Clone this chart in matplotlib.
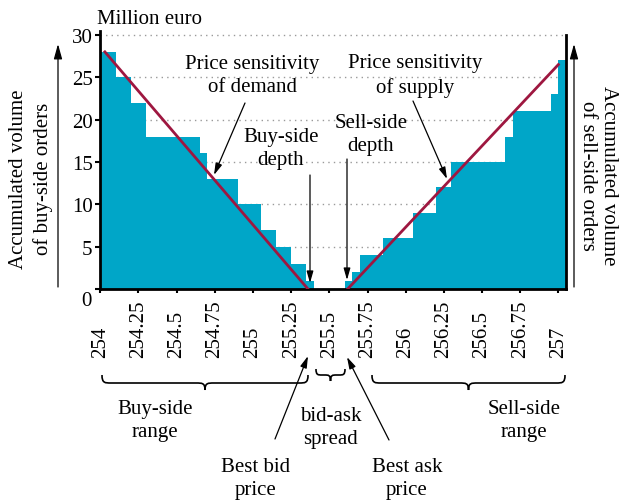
import matplotlib
matplotlib.use("Agg")
import matplotlib.pyplot as plt
import matplotlib.transforms as mtransforms
import numpy as np
from matplotlib.patches import PathPatch
from matplotlib.path import Path

W, H = 619, 502

# order book
buy_edges = [254.0, 254.1, 254.2, 254.3, 254.65, 254.7, 254.9,
             255.05, 255.15, 255.25, 255.35, 255.4]
buy_volume = [28, 25, 22, 18, 16, 13, 10, 7, 5, 3, 1]

sell_edges = [255.6, 255.65, 255.7, 255.85, 256.05, 256.2, 256.3,
              256.65, 256.7, 256.95, 257.0, 257.05]
sell_volume = [1, 2, 4, 6, 9, 12, 15, 18, 21, 23, 27]

demand_price = [254.03, 255.36]
demand_volume = [28, 0]
supply_price = [255.62, 257.0]
supply_volume = [0, 26.5]

price_ticks = [254, 254.25, 254.5, 254.75, 255, 255.25, 255.5,
               255.75, 256, 256.25, 256.5, 256.75, 257]
volume_ticks = [0, 5, 10, 15, 20, 25, 30]

BAR = "#00A6C8"
RED = "#9E1740"
FS = 15
LS = 1.3

plt.rcParams["font.family"] = "Liberation Serif"

fig = plt.figure(figsize=(W / 100, H / 100), dpi=100)
ax = fig.add_axes([100.3 / W, 1 - 290 / H, (566 - 100.3) / W, (290 - 31.7) / H])

# pixel coordinates of the reference image (y pointing down)
px = mtransforms.Affine2D().scale(1 / W, -1 / H).translate(0, 1) + fig.transFigure

ax.bar(buy_edges[:-1], buy_volume, width=np.diff(buy_edges), align="edge",
       color=BAR, linewidth=0, zorder=2)
ax.bar(sell_edges[:-1], sell_volume, width=np.diff(sell_edges), align="edge",
       color=BAR, linewidth=0, zorder=2)
ax.plot(demand_price, demand_volume, color=RED, linewidth=2, zorder=3)
ax.plot(supply_price, supply_volume, color=RED, linewidth=2, zorder=3)

ax.set_xlim(254, 257.05)
ax.set_ylim(0, 30.5)

ax.set_xticks(price_ticks)
ax.set_xticklabels([f"{p:g}" for p in price_ticks], rotation=90, va="bottom",
                   fontsize=FS)
ax.set_yticks(volume_ticks)
ax.set_yticklabels([""] + [str(v) for v in volume_ticks[1:]], fontsize=FS)
ax.tick_params(axis="x", direction="out", length=3, width=1.5, pad=46)
ax.tick_params(axis="y", direction="out", length=3.5, width=1.5, pad=2)

ax.yaxis.grid(True, color="#9a9a9a", linestyle=(0, (1, 3)), linewidth=1)
ax.set_axisbelow(True)

for side in ["left", "bottom", "right"]:
    ax.spines[side].set_linewidth(2)
ax.spines["right"].set_bounds(0, 30)
ax.spines["top"].set_visible(False)

fig.text(92 / W, 1 - 302 / H, "0", ha="right", va="center", fontsize=FS)
fig.text(97 / W, 1 - 19 / H, "Million euro", ha="left", va="center", fontsize=FS)

# axis titles with their arrows
fig.text(31 / W, 1 - 179 / H, "Accumulated volume\nof buy-side orders",
         rotation=90, ha="center", va="center", fontsize=FS, linespacing=1.4)
fig.text(598 / W, 1 - 176 / H, "Accumulated volume\nof sell-side orders",
         rotation=-90, ha="center", va="center", fontsize=FS, linespacing=1.15)

head = dict(arrowstyle="-|>,head_length=0.9,head_width=0.25", color="black",
            linewidth=0.9, shrinkA=0, shrinkB=0)
small_head = dict(arrowstyle="-|>,head_length=0.7,head_width=0.2", color="black",
                  linewidth=0.9, shrinkA=0, shrinkB=0)

for x in [58, 574]:
    ax.annotate("", xy=(x, 45), xytext=(x, 288), xycoords=px, textcoords=px,
                arrowprops=head, annotation_clip=False)

# labels inside the plot
notes = [
    ("Price sensitivity\nof demand", 252, 76, (245, 104), (214, 176)),
    ("Buy-side\ndepth", 281, 149, (310, 176), (310, 284)),
    ("Sell-side\ndepth", 371, 135, (347, 160), (347, 281)),
    ("Price sensitivity\nof supply", 415, 76, (413, 102), (447, 180)),
]
for text, tx, ty, start, tip in notes:
    fig.text(tx / W, 1 - ty / H, text, ha="center", va="center", fontsize=FS,
             linespacing=LS)
    ax.annotate("", xy=tip, xytext=start, xycoords=px, textcoords=px,
                arrowprops=small_head, annotation_clip=False)


def brace(x0, x1, ytop, ymid, ybot, q=9):
    xm = (x0 + x1) / 2
    verts = [(x0, ytop), (x0, ymid), (x0 + 0.3 * q, ymid), (x0 + q, ymid),
             (xm - q, ymid),
             (xm - 0.3 * q, ymid), (xm, ymid), (xm, ybot),
             (xm, ymid), (xm + 0.3 * q, ymid), (xm + q, ymid),
             (x1 - q, ymid),
             (x1 - 0.3 * q, ymid), (x1, ymid), (x1, ytop)]
    codes = ([Path.MOVETO] + [Path.CURVE4] * 3 + [Path.LINETO] +
             [Path.CURVE4] * 6 + [Path.LINETO] + [Path.CURVE4] * 3)
    patch = PathPatch(Path(verts, codes), transform=px, facecolor="none",
                      edgecolor="black", linewidth=1.2, clip_on=False)
    fig.add_artist(patch)


brace(102, 308, 376, 384, 391)
brace(316, 345, 370, 376, 382, q=6)
brace(372, 565, 376, 384, 391)

bottom_notes = [
    ("Buy-side\nrange", 155, 421),
    ("bid-ask\nspread", 331, 428),
    ("Sell-side\nrange", 524, 421),
    ("Best bid\nprice", 256, 479),
    ("Best ask\nprice", 407, 479),
]
for text, tx, ty in bottom_notes:
    fig.text(tx / W, 1 - ty / H, text, ha="center", va="center", fontsize=FS,
             linespacing=LS)

ax.annotate("", xy=(308, 357), xytext=(275, 440), xycoords=px, textcoords=px,
            arrowprops=small_head, annotation_clip=False)
ax.annotate("", xy=(347, 358), xytext=(389, 441), xycoords=px, textcoords=px,
            arrowprops=small_head, annotation_clip=False)

fig.savefig("out.png", dpi=100)
